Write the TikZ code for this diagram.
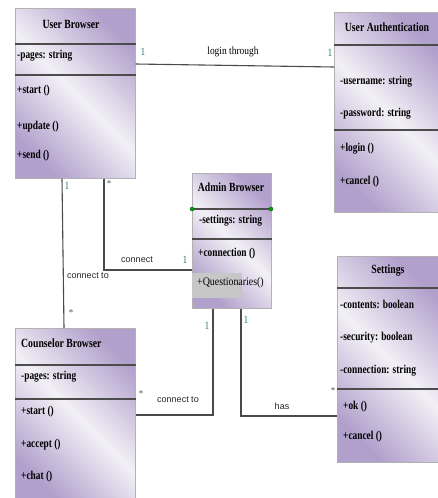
\documentclass[tikz,border=0pt]{standalone}
\usepackage{fontspec}
\setmainfont{Liberation Serif}
\newfontfamily\clsfont[FakeStretch=0.78]{Liberation Serif}
\newfontfamily\lblfont[FakeStretch=0.86]{Liberation Serif}
\newfontfamily\lsans{Liberation Sans}
\definecolor{clsdark}{HTML}{B2A0CC}
\definecolor{clslight}{HTML}{F2F0F6}
\definecolor{multteal}{HTML}{2C7F7A}
\definecolor{linegray}{HTML}{4A4A4A}
\begin{document}
\begin{tikzpicture}[x=1pt,y=-1pt,
  cls/.style={draw=black!30, line width=0.6pt, rectangle, anchor=north west, inner sep=0pt,
    top color=clsdark, bottom color=clsdark, middle color=clslight, shading angle=-45},
  divider/.style={draw=black!70, line width=1.6pt},
  ttl/.style={font=\clsfont\bfseries\fontsize{12.5}{14}\selectfont, inner sep=0pt},
  attr/.style={font=\clsfont\bfseries\fontsize{12}{14}\selectfont, anchor=west, inner sep=0pt},
  conn/.style={draw=linegray, line width=1.1pt},
  mult/.style={font=\lblfont\fontsize{11}{12}\selectfont, text=multteal, inner sep=0pt},
  star/.style={font=\fontsize{9}{11}\selectfont, text=black!70, inner sep=0pt},
  lbl/.style={font=\lsans\fontsize{9}{11}\selectfont, text=black!85, inner sep=0pt},
  gdot/.style={circle, fill=green!65!black, draw=green!40!black, inner sep=0pt, minimum size=4pt}
]
\useasboundingbox (0,0) rectangle (438,498);
\clip (0,0) rectangle (438,498);

% ---------- User Browser ----------
\node[cls, minimum width=120pt, minimum height=170pt] (ub) at (15,8) {};
\draw[divider] (ub.west |- 0,44) -- (ub.east |- 0,44);
\draw[divider] (ub.west |- 0,75) -- (ub.east |- 0,75);
\node[ttl] (ubt) at (71,24) {User Browser};
\node[attr] (ub1) at (17,56) {-pages: string};
\node[attr] (ub2) at (17,91) {+start ()};
\node[attr] (ub3) at (17,127) {+update ()};
\node[attr] (ub4) at (17,156) {+send ()};

% ---------- User Authentication ----------
\node[cls, minimum width=106pt, minimum height=200pt] (ua) at (334,12) {};
\draw[divider] (ua.west |- 0,45) -- (ua.east |- 0,45);
\draw[divider] (ua.west |- 0,130) -- (ua.east |- 0,130);
\node[ttl] (uat) at (387,27) {User Authentication};
\node[attr] (ua1) at (340,82) {-username: string};
\node[attr] (ua2) at (340,114) {-password: string};
\node[attr] (ua3) at (340,149) {+login ()};
\node[attr] (ua4) at (340,182) {+cancel ()};

% ---------- Admin Browser ----------
\node[cls, minimum width=79pt, minimum height=135pt] (ab) at (192,173) {};
\draw[divider] (ab.west |- 0,209) -- (ab.east |- 0,209);
\draw[divider] (ab.west |- 0,239) -- (ab.east |- 0,239);
\fill[black!22] (192,273) rectangle (242,298);
\node[ttl] (abt) at (231,187) {Admin Browser};
\node[attr] (ab1) at (199,221) {-settings: string};
\node[attr] (ab2) at (198,254) {+connection ()};
\node[attr, font=\lblfont\fontsize{11.5}{13}\selectfont] (ab3) at (197,283) {+Questionaries()};
\node[gdot] (gd1) at (192,209) {};
\node[gdot] (gd2) at (271,209) {};

% ---------- Settings ----------
\node[cls, minimum width=103pt, minimum height=206pt] (st) at (337,256) {};
\draw[divider] (st.west |- 0,288) -- (st.east |- 0,288);
\draw[divider] (st.west |- 0,389) -- (st.east |- 0,389);
\node[ttl] (stt) at (388,271) {Settings};
\node[attr] (st1) at (340,304) {-contents: boolean};
\node[attr] (st2) at (340,338) {-security: boolean};
\node[attr] (st3) at (340,371) {-connection: string};
\node[attr] (st4) at (343,407) {+ok ()};
\node[attr] (st5) at (343,437) {+cancel ()};

% ---------- Counselor Browser ----------
\node[cls, minimum width=120pt, minimum height=172pt] (cb) at (15,328) {};
\draw[divider] (cb.west |- 0,365) -- (cb.east |- 0,365);
\draw[divider] (cb.west |- 0,399) -- (cb.east |- 0,399);
\node[ttl, anchor=west] (cbt) at (21,343) {Counselor Browser};
\node[attr] (cb1) at (21,377) {-pages: string};
\node[attr] (cb2) at (21,412) {+start ()};
\node[attr] (cb3) at (21,445) {+accept ()};
\node[attr] (cb4) at (21,477) {+chat ()};

% ---------- Connectors ----------
% login through
\draw[conn] ([yshift=-56pt]ub.north east) -- ([yshift=-55pt]ua.north west);
\node[mult] (m1) at (143,52) {1};
\node[mult] (m2) at (330,53) {1};
\node[font=\lblfont\fontsize{11}{12}\selectfont, inner sep=0pt] (l1) at (233,52) {login through};

% User Browser -- Counselor Browser
\draw[conn] ([xshift=47pt]ub.south west) -- ([xshift=49pt]cb.north west);
\node[mult] (m3) at (67,186) {1};
\node[star] (s3) at (71,313) {*};
\node[lbl] (l3) at (88,276) {connect to};

% User Browser -- Admin Browser
\coordinate (c1) at (104,270);
\draw[conn] ([xshift=89pt]ub.south west) -- (c1) -- (ab.west |- c1);
\node[star] (s4) at (109,184) {*};
\node[mult] (m4) at (185,260) {1};
\node[lbl] (l4) at (137,260) {connect};

% Admin Browser -- Counselor Browser
\coordinate (c2) at (213,415);
\draw[conn] ([xshift=21pt]ab.south west) -- (c2) -- (cb.east |- c2);
\node[mult] (m5) at (207,326) {1};
\node[star] (s5) at (141,394) {*};
\node[lbl] (l5) at (178,400) {connect to};

% Admin Browser -- Settings
\coordinate (c3) at (241,416);
\draw[conn] ([xshift=49pt]ab.south west) -- (c3) -- (st.west |- c3);
\node[mult] (m6) at (246,320) {1};
\node[star] (s6) at (333,391) {*};
\node[lbl] (l6) at (282,406) {has};

\end{tikzpicture}
\end{document}
